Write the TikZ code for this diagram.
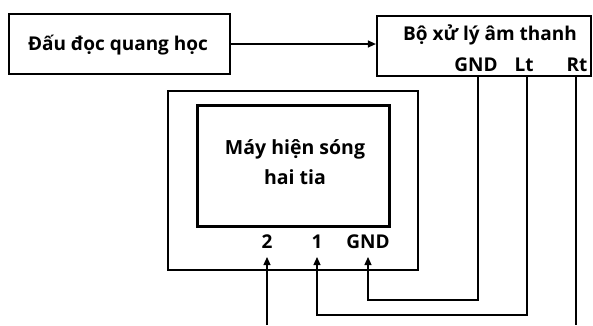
\documentclass[tikz,border=0pt]{standalone}
\usepackage{fontspec}
\setmainfont{Open Sans}
\usetikzlibrary{arrows.meta}
\begin{document}
\begin{tikzpicture}[x=1pt,y=-1pt,
  box/.style={draw,line width=2.2pt,minimum width=#1,inner sep=0pt},
  lbl/.style={font=\bfseries\fontsize{19}{22}\selectfont,inner sep=0pt,anchor=base},
  scrlbl/.style={lbl,font=\bfseries\fontsize{19.5}{22}\selectfont},
  conn/.style={line width=1.2pt},
  arr/.style={conn,-{Triangle[length=8pt,width=7pt]}}]
\useasboundingbox (0,0) rectangle (593,325);
% boxes
\node[box=221pt,minimum height=60pt] (reader) at (119.5,44) {};
\node[lbl] (readertxt) at (118,50) {Đấu đọc quang học};
\node[box=214pt,minimum height=60pt] (proc) at (484,46) {};
\node[lbl] (proctxt) at (490,40) {Bộ xử lý âm thanh};
\node[lbl] (pGND) at (476,71) {GND};
\node[lbl] (pLt) at (524,71) {Lt};
\node[lbl] (pRt) at (577,71) {Rt};
\node[box=250pt,minimum height=179pt] (osc) at (293,180.5) {};
\node[box=192pt,minimum height=121pt,line width=3pt] (scr) at (293,165.5) {};
\node[scrlbl] (scrtxt1) at (295,154) {Máy hiện sóng};
\node[scrlbl] (scrtxt2) at (295,184) {hai tia};
\node[lbl] (o2) at (267,248) {2};
\node[lbl] (o1) at (317,248) {1};
\node[lbl] (oGND) at (368,248) {GND};
% free ends and bends
\coordinate (gx) at (478,76);
\coordinate (lx) at (527,76);
\coordinate (rx) at (576,76);
\coordinate (gbend) at (478,300);
\coordinate (lbend) at (527,315);
\coordinate (end2) at (267,325);
\coordinate (endRt) at (576,325);
\coordinate (t2) at (267,257);
\coordinate (t1) at (317,257);
\coordinate (tG) at (368,257);
% connectors
\draw[arr] (reader.east) -- (reader.east -| proc.west);
\draw[arr] (gx) -- (gbend) -| (tG);
\draw[arr] (lx) -- (lbend) -| (t1);
\draw[arr] (end2) -- (t2);
\draw[conn] (rx) -- (endRt);
\end{tikzpicture}
\end{document}
